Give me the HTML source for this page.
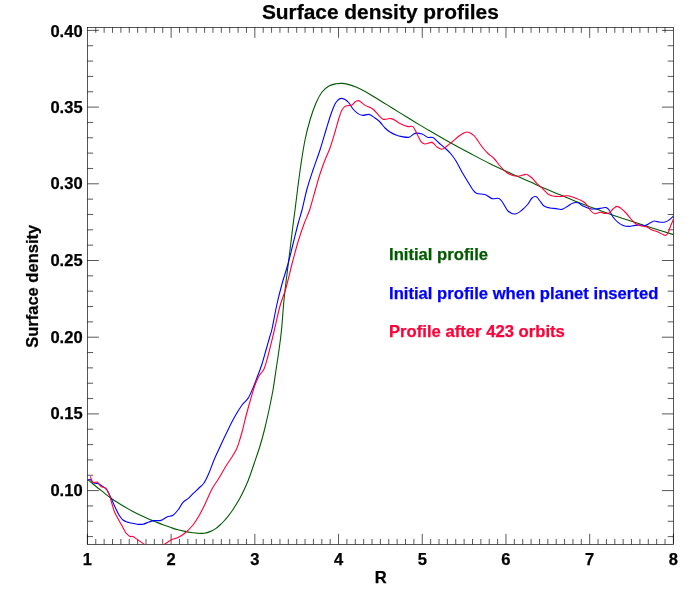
<!DOCTYPE html>
<html><head><meta charset="utf-8"><title>Surface density profiles</title>
<style>
html,body{margin:0;padding:0;background:#fff;}
body{width:700px;height:600px;overflow:hidden;}
svg{display:block;}
text{font-family:"Liberation Sans",sans-serif;font-weight:bold;font-size:16.55px;fill:#000;stroke:#000;stroke-width:0.25px;}
#wrap{width:700px;height:600px;will-change:transform;}
</style></head>
<body>
<div id="wrap">
<svg width="700" height="600" viewBox="0 0 700 600">
<rect x="0" y="0" width="700" height="600" fill="#fff"/>
<defs><clipPath id="pc"><rect x="87.4" y="27.4" width="586.0" height="516.95"/></clipPath></defs>
<text x="380.35" y="19.45" text-anchor="middle" style="font-size:20.9px">Surface density profiles</text>
<g fill="none" stroke="#000" stroke-width="0.66">
<rect x="87.4" y="27.4" width="586.0" height="516.95"/>
<path d="M87.40 544.35 v-10.50M95.77 544.35 v-5.40M95.77 27.40 v5.40M104.14 544.35 v-5.40M104.14 27.40 v5.40M112.51 544.35 v-5.40M112.51 27.40 v5.40M120.89 544.35 v-5.40M120.89 27.40 v5.40M129.26 544.35 v-5.40M129.26 27.40 v5.40M137.63 544.35 v-5.40M137.63 27.40 v5.40M146.00 544.35 v-5.40M146.00 27.40 v5.40M154.37 544.35 v-5.40M154.37 27.40 v5.40M162.74 544.35 v-5.40M162.74 27.40 v5.40M171.11 544.35 v-10.50M171.11 27.40 v10.50M179.49 544.35 v-5.40M179.49 27.40 v5.40M187.86 544.35 v-5.40M187.86 27.40 v5.40M196.23 544.35 v-5.40M196.23 27.40 v5.40M204.60 544.35 v-5.40M204.60 27.40 v5.40M212.97 544.35 v-5.40M212.97 27.40 v5.40M221.34 544.35 v-5.40M221.34 27.40 v5.40M229.71 544.35 v-5.40M229.71 27.40 v5.40M238.09 544.35 v-5.40M238.09 27.40 v5.40M246.46 544.35 v-5.40M246.46 27.40 v5.40M254.83 544.35 v-10.50M254.83 27.40 v10.50M263.20 544.35 v-5.40M263.20 27.40 v5.40M271.57 544.35 v-5.40M271.57 27.40 v5.40M279.94 544.35 v-5.40M279.94 27.40 v5.40M288.31 544.35 v-5.40M288.31 27.40 v5.40M296.69 544.35 v-5.40M296.69 27.40 v5.40M305.06 544.35 v-5.40M305.06 27.40 v5.40M313.43 544.35 v-5.40M313.43 27.40 v5.40M321.80 544.35 v-5.40M321.80 27.40 v5.40M330.17 544.35 v-5.40M330.17 27.40 v5.40M338.54 544.35 v-10.50M338.54 27.40 v10.50M346.91 544.35 v-5.40M346.91 27.40 v5.40M355.29 544.35 v-5.40M355.29 27.40 v5.40M363.66 544.35 v-5.40M363.66 27.40 v5.40M372.03 544.35 v-5.40M372.03 27.40 v5.40M380.40 544.35 v-5.40M380.40 27.40 v5.40M388.77 544.35 v-5.40M388.77 27.40 v5.40M397.14 544.35 v-5.40M397.14 27.40 v5.40M405.51 544.35 v-5.40M405.51 27.40 v5.40M413.89 544.35 v-5.40M413.89 27.40 v5.40M422.26 544.35 v-10.50M422.26 27.40 v10.50M430.63 544.35 v-5.40M430.63 27.40 v5.40M439.00 544.35 v-5.40M439.00 27.40 v5.40M447.37 544.35 v-5.40M447.37 27.40 v5.40M455.74 544.35 v-5.40M455.74 27.40 v5.40M464.11 544.35 v-5.40M464.11 27.40 v5.40M472.49 544.35 v-5.40M472.49 27.40 v5.40M480.86 544.35 v-5.40M480.86 27.40 v5.40M489.23 544.35 v-5.40M489.23 27.40 v5.40M497.60 544.35 v-5.40M497.60 27.40 v5.40M505.97 544.35 v-10.50M505.97 27.40 v10.50M514.34 544.35 v-5.40M514.34 27.40 v5.40M522.71 544.35 v-5.40M522.71 27.40 v5.40M531.09 544.35 v-5.40M531.09 27.40 v5.40M539.46 544.35 v-5.40M539.46 27.40 v5.40M547.83 544.35 v-5.40M547.83 27.40 v5.40M556.20 544.35 v-5.40M556.20 27.40 v5.40M564.57 544.35 v-5.40M564.57 27.40 v5.40M572.94 544.35 v-5.40M572.94 27.40 v5.40M581.31 544.35 v-5.40M581.31 27.40 v5.40M589.69 544.35 v-10.50M589.69 27.40 v10.50M598.06 544.35 v-5.40M598.06 27.40 v5.40M606.43 544.35 v-5.40M606.43 27.40 v5.40M614.80 544.35 v-5.40M614.80 27.40 v5.40M623.17 544.35 v-5.40M623.17 27.40 v5.40M631.54 544.35 v-5.40M631.54 27.40 v5.40M639.91 544.35 v-5.40M639.91 27.40 v5.40M648.29 544.35 v-5.40M648.29 27.40 v5.40M656.66 544.35 v-5.40M656.66 27.40 v5.40M665.03 544.35 v-5.40M665.03 27.40 v5.40M673.40 544.35 v-10.50M87.40 536.62 h5.70M673.40 536.62 h-5.70M87.40 521.28 h5.70M673.40 521.28 h-5.70M87.40 505.94 h5.70M673.40 505.94 h-5.70M87.40 490.60 h11.50M673.40 490.60 h-11.50M87.40 475.26 h5.70M673.40 475.26 h-5.70M87.40 459.92 h5.70M673.40 459.92 h-5.70M87.40 444.58 h5.70M673.40 444.58 h-5.70M87.40 429.24 h5.70M673.40 429.24 h-5.70M87.40 413.90 h11.50M673.40 413.90 h-11.50M87.40 398.56 h5.70M673.40 398.56 h-5.70M87.40 383.22 h5.70M673.40 383.22 h-5.70M87.40 367.88 h5.70M673.40 367.88 h-5.70M87.40 352.54 h5.70M673.40 352.54 h-5.70M87.40 337.20 h11.50M673.40 337.20 h-11.50M87.40 321.86 h5.70M673.40 321.86 h-5.70M87.40 306.52 h5.70M673.40 306.52 h-5.70M87.40 291.18 h5.70M673.40 291.18 h-5.70M87.40 275.84 h5.70M673.40 275.84 h-5.70M87.40 260.50 h11.50M673.40 260.50 h-11.50M87.40 245.16 h5.70M673.40 245.16 h-5.70M87.40 229.82 h5.70M673.40 229.82 h-5.70M87.40 214.48 h5.70M673.40 214.48 h-5.70M87.40 199.14 h5.70M673.40 199.14 h-5.70M87.40 183.80 h11.50M673.40 183.80 h-11.50M87.40 168.46 h5.70M673.40 168.46 h-5.70M87.40 153.12 h5.70M673.40 153.12 h-5.70M87.40 137.78 h5.70M673.40 137.78 h-5.70M87.40 122.44 h5.70M673.40 122.44 h-5.70M87.40 107.10 h11.50M673.40 107.10 h-11.50M87.40 91.76 h5.70M673.40 91.76 h-5.70M87.40 76.42 h5.70M673.40 76.42 h-5.70M87.40 61.08 h5.70M673.40 61.08 h-5.70M87.40 45.74 h5.70M673.40 45.74 h-5.70M87.40 30.40 h11.50M673.40 30.40 h-11.50"/>
</g>
<text x="82.6" y="496.00" text-anchor="end">0.10</text>
<text x="82.6" y="419.30" text-anchor="end">0.15</text>
<text x="82.6" y="342.60" text-anchor="end">0.20</text>
<text x="82.6" y="265.90" text-anchor="end">0.25</text>
<text x="82.6" y="189.20" text-anchor="end">0.30</text>
<text x="82.6" y="112.50" text-anchor="end">0.35</text>
<text x="82.6" y="37.30" text-anchor="end">0.40</text>
<text x="87.40" y="565.4" text-anchor="middle">1</text>
<text x="171.11" y="565.4" text-anchor="middle">2</text>
<text x="254.83" y="565.4" text-anchor="middle">3</text>
<text x="338.54" y="565.4" text-anchor="middle">4</text>
<text x="422.26" y="565.4" text-anchor="middle">5</text>
<text x="505.97" y="565.4" text-anchor="middle">6</text>
<text x="589.69" y="565.4" text-anchor="middle">7</text>
<text x="673.40" y="565.4" text-anchor="middle">8</text>
<text x="380.8" y="583.4" text-anchor="middle">R</text>
<text transform="translate(38.2 286.3) rotate(-90)" text-anchor="middle">Surface density</text>
<g fill="none" stroke-width="1.1" stroke-linejoin="round" stroke-linecap="butt" clip-path="url(#pc)">
<path stroke="#005a00" d="M87.50 479.30C88.42 480.08 91.08 482.42 93.00 484.00C94.92 485.58 97.00 487.20 99.00 488.80C101.00 490.40 103.00 492.03 105.00 493.60C107.00 495.17 108.83 496.67 111.00 498.20C113.17 499.73 115.67 501.33 118.00 502.80C120.33 504.27 122.50 505.55 125.00 507.00C127.50 508.45 130.33 510.07 133.00 511.50C135.67 512.93 138.50 514.38 141.00 515.60C143.50 516.82 145.67 517.80 148.00 518.80C150.33 519.80 152.50 520.60 155.00 521.60C157.50 522.60 160.33 523.80 163.00 524.80C165.67 525.80 168.50 526.77 171.00 527.60C173.50 528.43 175.67 529.17 178.00 529.80C180.33 530.43 182.83 530.95 185.00 531.40C187.17 531.85 189.00 532.22 191.00 532.50C193.00 532.78 195.42 532.95 197.00 533.10C198.58 533.25 199.33 533.38 200.50 533.40C201.67 533.42 202.75 533.37 204.00 533.20C205.25 533.03 206.67 532.80 208.00 532.40C209.33 532.00 210.67 531.47 212.00 530.80C213.33 530.13 214.67 529.37 216.00 528.40C217.33 527.43 218.67 526.23 220.00 525.00C221.33 523.77 222.67 522.45 224.00 521.00C225.33 519.55 226.67 517.97 228.00 516.30C229.33 514.63 230.67 512.92 232.00 511.00C233.33 509.08 234.67 506.97 236.00 504.80C237.33 502.63 238.67 500.47 240.00 498.00C241.33 495.53 242.67 492.83 244.00 490.00C245.33 487.17 246.83 483.87 248.00 481.00C249.17 478.13 250.00 475.63 251.00 472.80C252.00 469.97 252.50 468.47 254.00 464.00C255.50 459.53 258.27 451.67 260.00 446.00C261.73 440.33 262.90 436.00 264.40 430.00C265.90 424.00 267.57 416.67 269.00 410.00C270.43 403.33 271.83 396.67 273.00 390.00C274.17 383.33 275.00 376.67 276.00 370.00C277.00 363.33 278.08 356.67 279.00 350.00C279.92 343.33 280.67 338.33 281.50 330.00C282.33 321.67 283.08 309.33 284.00 300.00C284.92 290.67 286.00 282.33 287.00 274.00C288.00 265.67 289.10 257.33 290.00 250.00C290.90 242.67 291.57 236.67 292.40 230.00C293.23 223.33 294.13 216.83 295.00 210.00C295.87 203.17 296.60 196.67 297.60 189.00C298.60 181.33 299.77 172.17 301.00 164.00C302.23 155.83 303.50 147.33 305.00 140.00C306.50 132.67 308.17 126.17 310.00 120.00C311.83 113.83 314.00 107.67 316.00 103.00C318.00 98.33 319.83 94.83 322.00 92.00C324.17 89.17 326.67 87.37 329.00 86.00C331.33 84.63 333.83 84.23 336.00 83.80C338.17 83.37 340.00 83.30 342.00 83.40C344.00 83.50 345.67 83.80 348.00 84.40C350.33 85.00 353.00 85.73 356.00 87.00C359.00 88.27 362.67 90.17 366.00 92.00C369.33 93.83 372.33 95.77 376.00 98.00C379.67 100.23 384.00 102.92 388.00 105.40C392.00 107.88 396.33 110.63 400.00 112.90C403.67 115.17 406.67 116.97 410.00 119.00C413.33 121.03 416.67 123.10 420.00 125.10C423.33 127.10 425.00 128.10 430.00 131.00C435.00 133.90 443.33 138.78 450.00 142.50C456.67 146.22 463.33 149.77 470.00 153.30C476.67 156.83 483.33 160.42 490.00 163.70C496.67 166.98 503.33 169.98 510.00 173.00C516.67 176.02 525.00 179.55 530.00 181.80C535.00 184.05 535.00 184.33 540.00 186.50C545.00 188.67 553.33 192.05 560.00 194.80C566.67 197.55 573.33 200.40 580.00 203.00C586.67 205.60 593.33 207.98 600.00 210.40C606.67 212.82 613.33 215.23 620.00 217.50C626.67 219.77 633.33 221.85 640.00 224.00C646.67 226.15 654.42 228.63 660.00 230.40C665.58 232.17 671.25 233.90 673.50 234.60"/>
<path stroke="#0000ff" d="M87.50 480.30C87.96 480.18 89.50 479.43 90.25 479.60C91.00 479.77 91.38 480.73 92.00 481.30C92.62 481.87 93.25 482.65 94.00 483.00C94.75 483.35 95.67 483.23 96.50 483.40C97.33 483.57 98.00 483.52 99.00 484.00C100.00 484.48 101.50 485.63 102.50 486.30C103.50 486.97 104.25 487.38 105.00 488.00C105.75 488.62 106.33 489.00 107.00 490.00C107.67 491.00 108.33 492.67 109.00 494.00C109.67 495.33 110.00 495.83 111.00 498.00C112.00 500.17 113.67 504.17 115.00 507.00C116.33 509.83 117.67 512.83 119.00 515.00C120.33 517.17 121.67 518.83 123.00 520.00C124.33 521.17 125.67 521.50 127.00 522.00C128.33 522.50 129.33 522.63 131.00 523.00C132.67 523.37 135.00 524.00 137.00 524.20C139.00 524.40 141.00 524.57 143.00 524.20C145.00 523.83 147.17 522.60 149.00 522.00C150.83 521.40 152.00 520.87 154.00 520.60C156.00 520.33 158.83 521.00 161.00 520.40C163.17 519.80 165.00 517.87 167.00 517.00C169.00 516.13 171.17 516.37 173.00 515.20C174.83 514.03 176.33 512.13 178.00 510.00C179.67 507.87 181.33 504.30 183.00 502.40C184.67 500.50 186.33 500.07 188.00 498.60C189.67 497.13 191.17 495.37 193.00 493.60C194.83 491.83 197.17 489.77 199.00 488.00C200.83 486.23 202.33 485.50 204.00 483.00C205.67 480.50 207.33 476.83 209.00 473.00C210.67 469.17 212.33 464.00 214.00 460.00C215.67 456.00 217.00 453.33 219.00 449.00C221.00 444.67 223.50 439.17 226.00 434.00C228.50 428.83 231.33 422.83 234.00 418.00C236.67 413.17 239.67 408.27 242.00 405.00C244.33 401.73 246.17 401.23 248.00 398.40C249.83 395.57 251.33 391.90 253.00 388.00C254.67 384.10 256.50 379.00 258.00 375.00C259.50 371.00 260.67 368.17 262.00 364.00C263.33 359.83 264.67 354.67 266.00 350.00C267.33 345.33 269.00 339.50 270.00 336.00C271.00 332.50 270.83 334.33 272.00 329.00C273.17 323.67 275.33 311.50 277.00 304.00C278.67 296.50 280.17 290.67 282.00 284.00C283.83 277.33 286.17 270.67 288.00 264.00C289.83 257.33 291.33 250.67 293.00 244.00C294.67 237.33 296.50 229.67 298.00 224.00C299.50 218.33 300.50 215.83 302.00 210.00C303.50 204.17 305.17 195.67 307.00 189.00C308.83 182.33 310.83 176.50 313.00 170.00C315.17 163.50 317.83 156.67 320.00 150.00C322.17 143.33 324.17 136.00 326.00 130.00C327.83 124.00 329.50 118.33 331.00 114.00C332.50 109.67 333.83 106.33 335.00 104.00C336.17 101.67 337.00 100.93 338.00 100.00C339.00 99.07 339.83 98.47 341.00 98.40C342.17 98.33 343.67 98.83 345.00 99.60C346.33 100.37 347.67 101.43 349.00 103.00C350.33 104.57 351.50 107.23 353.00 109.00C354.50 110.77 356.33 112.53 358.00 113.60C359.67 114.67 361.17 115.27 363.00 115.40C364.83 115.53 367.00 113.97 369.00 114.40C371.00 114.83 373.17 116.73 375.00 118.00C376.83 119.27 378.33 120.33 380.00 122.00C381.67 123.67 383.33 126.33 385.00 128.00C386.67 129.67 388.17 130.83 390.00 132.00C391.83 133.17 394.00 134.23 396.00 135.00C398.00 135.77 399.83 136.23 402.00 136.60C404.17 136.97 406.83 137.73 409.00 137.20C411.17 136.67 412.83 133.93 415.00 133.40C417.17 132.87 419.83 133.33 422.00 134.00C424.17 134.67 426.17 136.80 428.00 137.40C429.83 138.00 431.17 136.67 433.00 137.60C434.83 138.53 437.00 141.27 439.00 143.00C441.00 144.73 443.00 146.17 445.00 148.00C447.00 149.83 449.17 151.83 451.00 154.00C452.83 156.17 454.17 158.00 456.00 161.00C457.83 164.00 460.00 168.50 462.00 172.00C464.00 175.50 466.17 179.00 468.00 182.00C469.83 185.00 471.50 188.07 473.00 190.00C474.50 191.93 475.00 192.87 477.00 193.60C479.00 194.33 482.50 193.57 485.00 194.40C487.50 195.23 489.67 197.92 492.00 198.60C494.33 199.28 497.17 197.77 499.00 198.50C500.83 199.23 501.50 200.92 503.00 203.00C504.50 205.08 506.00 209.17 508.00 211.00C510.00 212.83 512.67 214.17 515.00 214.00C517.33 213.83 519.83 211.67 522.00 210.00C524.17 208.33 526.33 206.00 528.00 204.00C529.67 202.00 530.67 199.23 532.00 198.00C533.33 196.77 534.67 196.10 536.00 196.60C537.33 197.10 538.67 199.43 540.00 201.00C541.33 202.57 542.33 204.83 544.00 206.00C545.67 207.17 548.00 207.57 550.00 208.00C552.00 208.43 554.00 208.37 556.00 208.60C558.00 208.83 560.00 209.83 562.00 209.40C564.00 208.97 566.17 207.07 568.00 206.00C569.83 204.93 571.33 203.53 573.00 203.00C574.67 202.47 576.33 202.30 578.00 202.80C579.67 203.30 581.17 205.05 583.00 206.00C584.83 206.95 586.83 208.00 589.00 208.50C591.17 209.00 593.83 209.08 596.00 209.00C598.17 208.92 600.33 208.23 602.00 208.00C603.67 207.77 604.75 207.18 606.00 207.60C607.25 208.02 608.33 208.93 609.50 210.50C610.67 212.07 611.58 215.02 613.00 217.00C614.42 218.98 616.33 221.00 618.00 222.40C619.67 223.80 621.17 224.73 623.00 225.40C624.83 226.07 627.00 226.40 629.00 226.40C631.00 226.40 633.17 225.63 635.00 225.40C636.83 225.17 638.33 224.97 640.00 225.00C641.67 225.03 643.33 225.93 645.00 225.60C646.67 225.27 648.50 223.77 650.00 223.00C651.50 222.23 652.50 221.17 654.00 221.00C655.50 220.83 657.17 221.83 659.00 222.00C660.83 222.17 663.33 222.33 665.00 222.00C666.67 221.67 667.58 221.00 669.00 220.00C670.42 219.00 672.75 216.67 673.50 216.00"/>
<path stroke="#ff0038" d="M90.40 476.30C90.53 476.75 90.93 478.22 91.20 479.00C91.47 479.78 91.62 480.42 92.00 481.00C92.38 481.58 92.58 482.29 93.50 482.50C94.42 482.71 96.25 481.58 97.50 482.25C98.75 482.92 99.75 485.58 101.00 486.50C102.25 487.42 104.00 487.17 105.00 487.75C106.00 488.33 106.33 488.96 107.00 490.00C107.67 491.04 108.42 492.58 109.00 494.00C109.58 495.42 110.00 496.83 110.50 498.50C111.00 500.17 111.25 501.58 112.00 504.00C112.75 506.42 113.50 509.67 115.00 513.00C116.50 516.33 119.17 520.67 121.00 524.00C122.83 527.33 124.50 530.93 126.00 533.00C127.50 535.07 128.83 535.80 130.00 536.40C131.17 537.00 131.67 536.00 133.00 536.60C134.33 537.20 136.07 538.68 138.00 540.00C139.93 541.32 142.60 543.17 144.60 544.50C146.60 545.83 148.27 547.25 150.00 548.00C151.73 548.75 153.33 549.08 155.00 549.00C156.67 548.92 158.45 548.25 160.00 547.50C161.55 546.75 162.47 545.75 164.30 544.50C166.13 543.25 168.72 541.15 171.00 540.00C173.28 538.85 175.67 538.77 178.00 537.60C180.33 536.43 182.50 535.10 185.00 533.00C187.50 530.90 190.50 528.17 193.00 525.00C195.50 521.83 197.83 517.83 200.00 514.00C202.17 510.17 204.00 506.17 206.00 502.00C208.00 497.83 209.83 493.00 212.00 489.00C214.17 485.00 216.67 481.83 219.00 478.00C221.33 474.17 223.83 469.50 226.00 466.00C228.17 462.50 230.17 460.00 232.00 457.00C233.83 454.00 235.67 451.00 237.00 448.00C238.33 445.00 239.07 442.00 240.00 439.00C240.93 436.00 241.60 433.83 242.60 430.00C243.60 426.17 244.60 421.33 246.00 416.00C247.40 410.67 249.50 403.17 251.00 398.00C252.50 392.83 253.67 388.67 255.00 385.00C256.33 381.33 257.50 378.67 259.00 376.00C260.50 373.33 262.50 372.33 264.00 369.00C265.50 365.67 266.67 360.83 268.00 356.00C269.33 351.17 270.93 344.33 272.00 340.00C273.07 335.67 273.07 335.67 274.40 330.00C275.73 324.33 278.07 313.00 280.00 306.00C281.93 299.00 284.00 295.00 286.00 288.00C288.00 281.00 290.00 271.67 292.00 264.00C294.00 256.33 296.00 248.67 298.00 242.00C300.00 235.33 302.07 229.33 304.00 224.00C305.93 218.67 307.67 215.83 309.60 210.00C311.53 204.17 313.87 195.00 315.60 189.00C317.33 183.00 318.43 178.83 320.00 174.00C321.57 169.17 323.33 164.33 325.00 160.00C326.67 155.67 328.33 152.67 330.00 148.00C331.67 143.33 333.50 137.00 335.00 132.00C336.50 127.00 337.83 121.67 339.00 118.00C340.17 114.33 341.00 111.93 342.00 110.00C343.00 108.07 344.00 107.13 345.00 106.40C346.00 105.67 346.83 105.83 348.00 105.60C349.17 105.37 350.83 105.60 352.00 105.00C353.17 104.40 354.00 102.73 355.00 102.00C356.00 101.27 357.00 100.60 358.00 100.60C359.00 100.60 359.83 101.20 361.00 102.00C362.17 102.80 363.50 104.50 365.00 105.40C366.50 106.30 368.50 106.63 370.00 107.40C371.50 108.17 372.50 108.63 374.00 110.00C375.50 111.37 377.50 114.07 379.00 115.60C380.50 117.13 381.67 118.63 383.00 119.20C384.33 119.77 385.67 119.10 387.00 119.00C388.33 118.90 389.67 118.40 391.00 118.60C392.33 118.80 393.50 119.38 395.00 120.20C396.50 121.02 397.83 122.43 400.00 123.50C402.17 124.57 405.83 126.08 408.00 126.60C410.17 127.12 411.50 125.37 413.00 126.60C414.50 127.83 415.67 131.50 417.00 134.00C418.33 136.50 419.67 139.93 421.00 141.60C422.33 143.27 423.17 143.87 425.00 144.00C426.83 144.13 430.00 141.90 432.00 142.40C434.00 142.90 435.33 145.87 437.00 147.00C438.67 148.13 440.33 149.37 442.00 149.20C443.67 149.03 445.33 147.20 447.00 146.00C448.67 144.80 450.00 143.67 452.00 142.00C454.00 140.33 456.83 137.60 459.00 136.00C461.17 134.40 463.33 133.00 465.00 132.40C466.67 131.80 467.50 131.87 469.00 132.40C470.50 132.93 472.50 134.17 474.00 135.60C475.50 137.03 476.50 138.93 478.00 141.00C479.50 143.07 481.33 145.92 483.00 148.00C484.67 150.08 486.17 151.75 488.00 153.50C489.83 155.25 492.00 156.42 494.00 158.50C496.00 160.58 498.00 163.75 500.00 166.00C502.00 168.25 504.00 170.47 506.00 172.00C508.00 173.53 510.00 174.50 512.00 175.20C514.00 175.90 516.17 176.23 518.00 176.20C519.83 176.17 521.50 175.30 523.00 175.00C524.50 174.70 525.50 173.90 527.00 174.40C528.50 174.90 530.33 176.47 532.00 178.00C533.67 179.53 535.17 181.77 537.00 183.60C538.83 185.43 541.17 187.27 543.00 189.00C544.83 190.73 546.33 192.83 548.00 194.00C549.67 195.17 551.00 195.58 553.00 196.00C555.00 196.42 557.50 196.53 560.00 196.50C562.50 196.47 565.33 195.52 568.00 195.80C570.67 196.08 573.50 197.25 576.00 198.20C578.50 199.15 581.17 200.37 583.00 201.50C584.83 202.63 585.67 203.42 587.00 205.00C588.33 206.58 589.67 209.53 591.00 211.00C592.33 212.47 593.50 213.58 595.00 213.80C596.50 214.02 598.33 212.37 600.00 212.30C601.67 212.23 603.50 213.28 605.00 213.40C606.50 213.52 607.67 213.73 609.00 213.00C610.33 212.27 611.67 210.10 613.00 209.00C614.33 207.90 615.67 206.50 617.00 206.40C618.33 206.30 619.50 207.30 621.00 208.40C622.50 209.50 624.33 211.23 626.00 213.00C627.67 214.77 629.33 217.17 631.00 219.00C632.67 220.83 634.17 222.83 636.00 224.00C637.83 225.17 640.17 225.50 642.00 226.00C643.83 226.50 645.33 226.33 647.00 227.00C648.67 227.67 650.17 229.17 652.00 230.00C653.83 230.83 656.17 231.23 658.00 232.00C659.83 232.77 661.77 234.03 663.00 234.60C664.23 235.17 664.57 235.67 665.40 235.40C666.23 235.13 667.13 234.57 668.00 233.00C668.87 231.43 669.68 228.33 670.60 226.00C671.52 223.67 673.02 220.17 673.50 219.00"/>
</g>
<text x="389" y="260.4" style="font-size:16.67px;fill:#005a00;stroke:#005a00">Initial profile</text>
<text x="389" y="298.8" style="font-size:16.67px;fill:#0000ff;stroke:#0000ff">Initial profile when planet inserted</text>
<text x="389" y="337.45" style="font-size:16.67px;fill:#ff0038;stroke:#ff0038">Profile after 423 orbits</text>
</svg>
</div>
</body></html>
